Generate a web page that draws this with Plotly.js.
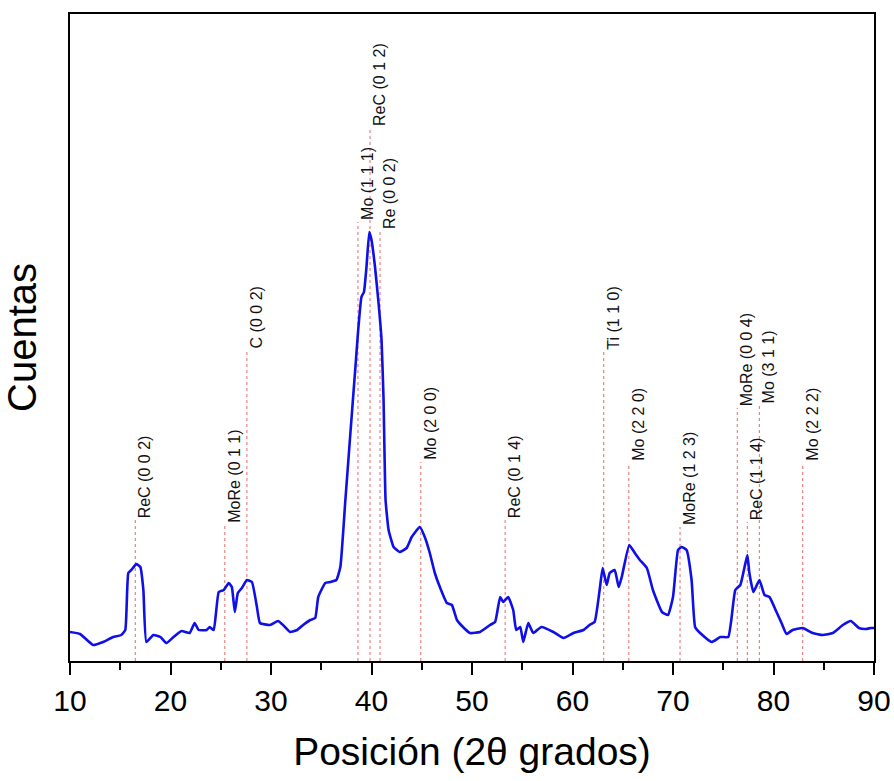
<!DOCTYPE html>
<html>
<head>
<meta charset="utf-8">
<script src="https://cdn.plot.ly/plotly-3.0.1.min.js"></script>
<style>html,body{margin:0;padding:0;background:#fff;}#chart{width:894px;height:781px;}</style>
</head>
<body>
<div id="chart"></div>
<script>
// Diffractogram (2θ in degrees, counts in arbitrary units)
const twoTheta = [10.0,11.0,12.3,13.3,14.3,15.1,15.5,15.8,16.1,16.6,17.0,17.3,17.6,18.3,19.0,19.6,20.3,21.1,21.9,22.4,22.8,23.6,23.9,24.3,24.8,25.3,25.8,26.1,26.4,26.7,27.1,27.6,28.1,28.6,28.9,29.9,30.7,31.2,31.9,32.6,33.2,33.9,34.4,34.7,35.4,35.9,36.5,36.9,37.4,37.9,38.4,38.7,39.0,39.25,39.5,39.78,40.0,40.35,40.7,41.0,41.2,41.4,41.7,42.2,42.8,43.5,44.0,44.8,45.3,45.8,46.3,46.8,47.5,48.0,48.5,49.1,49.8,50.8,51.8,52.3,52.8,53.1,53.6,54.1,54.4,54.8,55.1,55.6,56.1,56.9,58.1,59.1,60.1,61.1,61.7,62.2,62.7,63.0,63.4,63.7,64.2,64.6,64.9,65.65,66.2,66.7,67.4,68.0,68.9,69.5,70.0,70.5,70.85,71.35,71.85,72.2,72.7,73.85,74.7,75.5,75.8,76.2,76.7,77.1,77.4,77.6,78.0,78.6,79.1,79.6,80.3,80.8,81.3,81.9,82.9,83.9,84.9,85.9,86.9,87.7,88.5,89.2,89.7,90.0];
const counts = [29,27,16,19,24,26,31,88,91,97,94,71,19,26,24,18,24,30,28,38,31,31,34,31,69,71,78,74,49,68,73,81,79,54,38,36,40,36,29,31,36,41,43,64,78,79,81,94,161,228,294,334,364,369,394,429,421,394,358,321,261,161,131,114,109,113,124,134,124,108,88,74,58,56,41,34,28,29,36,39,64,59,64,51,31,34,19,38,28,34,29,23,28,31,36,39,71,93,76,88,91,74,84,116,108,101,93,71,49,46,64,111,114,111,81,34,28,19,24,24,41,71,76,93,106,88,69,81,66,64,49,38,27,31,33,28,26,28,36,40,33,32,33,33];

// Reference reflections
const peakLabels = ["ReC (0 0 2)","MoRe (0 1 1)","C (0 0 2)","Mo (1 1 1)","ReC (0 1 2)","Re (0 0 2)","Mo (2 0 0)","ReC (0 1 4)","Ti (1 1 0)","Mo (2 2 0)","MoRe (1 2 3)","MoRe (0 0 4)","ReC (1 1 4)","Mo (3 1 1)","Mo (2 2 2)"];
const peakPos = [16.5,25.4,27.6,38.65,39.85,40.85,44.9,53.3,63.1,65.6,70.7,76.4,77.4,78.6,82.9];
const peakTop = [141,136,311,439,533,430,199,141,309,198,134,253,139,256,198];

const traces = [];
peakPos.forEach((p, i) => {
  traces.push({
    x: [p, p], y: [0, peakTop[i]], type: 'scatter', mode: 'lines',
    line: {color: 'rgba(225,90,90,0.75)', width: 1.2, dash: '3px,3px'},
    hoverinfo: 'skip', showlegend: false
  });
});
traces.push({
  x: twoTheta, y: counts, type: 'scatter', mode: 'lines',
  line: {color: '#0f0fe8', width: 2.6, shape: 'spline', smoothing: 0.4},
  showlegend: false, name: 'DRX'
});

const annotations = peakLabels.map((t, i) => ({
  x: peakPos[i], y: peakTop[i], xref: 'x', yref: 'y', text: t,
  showarrow: false, textangle: -90, xanchor: 'left', yanchor: 'bottom',
  xshift: -1, yshift: 0,
  font: {family: 'Liberation Sans, Arial, sans-serif', size: 16, color: '#111'}
}));

const layout = {
  width: 894, height: 781,
  margin: {l: 70, r: 20, t: 14, b: 120},
  paper_bgcolor: '#fff', plot_bgcolor: '#fff',
  font: {family: 'Liberation Sans, Arial, sans-serif', color: '#000'},
  xaxis: {
    range: [10, 90], dtick: 10, tick0: 10,
    showgrid: false, zeroline: false,
    showline: true, linecolor: '#000', linewidth: 2, mirror: true,
    ticks: 'outside', ticklen: 12, tickwidth: 2, tickcolor: '#000',
    minor: {dtick: 5, ticks: 'outside', ticklen: 7, tickwidth: 2, tickcolor: '#000'},
    tickfont: {size: 30, color: '#000'},
    title: {text: 'Posición (2θ grados)', font: {size: 39, color: '#000'}, standoff: 22}
  },
  yaxis: {
    range: [0, 647],
    showgrid: false, zeroline: false,
    showline: true, linecolor: '#000', linewidth: 2, mirror: true,
    ticks: '', showticklabels: false,
    title: {text: 'Cuentas', font: {size: 40, color: '#000'}, standoff: 22}
  },
  annotations: annotations,
  showlegend: false
};

Plotly.newPlot('chart', traces, layout, {displayModeBar: false, staticPlot: true});
</script>
</body>
</html>
